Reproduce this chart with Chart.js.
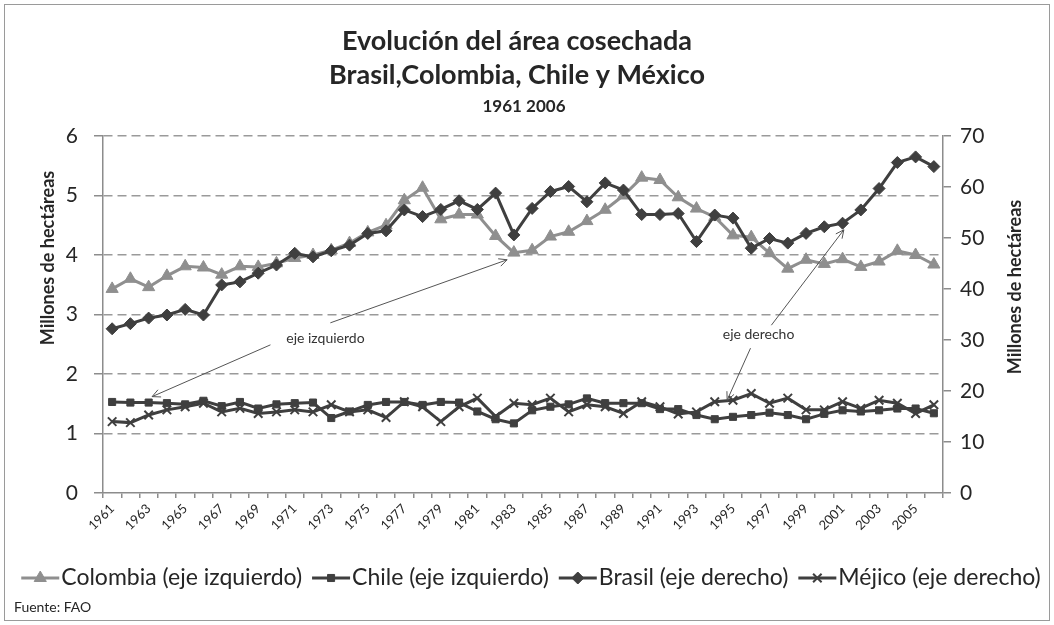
<!DOCTYPE html>
<html>
<head>
<meta charset="utf-8">
<script src="https://cdn.jsdelivr.net/npm/chart.js@4"></script>
<style>
  html, body { margin: 0; padding: 0; background: #fff; }
  #wrap { width: 1054px; height: 625px; position: relative; }
</style>
</head>
<body>
<div id="wrap"><canvas id="chart" width="1054" height="625"></canvas></div>
<script>
const years = [
  "1961", "1962", "1963", "1964", "1965", "1966", "1967", "1968", "1969", "1970",
  "1971", "1972", "1973", "1974", "1975", "1976", "1977", "1978", "1979", "1980",
  "1981", "1982", "1983", "1984", "1985", "1986", "1987", "1988", "1989", "1990",
  "1991", "1992", "1993", "1994", "1995", "1996", "1997", "1998", "1999", "2000",
  "2001", "2002", "2003", "2004", "2005", "2006",
];

// eje izquierdo (millones de ha)
const colombia = [
  3.43, 3.60, 3.46, 3.65, 3.81, 3.79, 3.67, 3.81, 3.80, 3.86,
  3.95, 4.00, 4.08, 4.20, 4.38, 4.50, 4.92, 5.13, 4.60, 4.68,
  4.68, 4.32, 4.04, 4.08, 4.31, 4.39, 4.57, 4.76, 5.00, 5.30,
  5.26, 4.97, 4.78, 4.64, 4.33, 4.30, 4.03, 3.77, 3.92, 3.85,
  3.93, 3.80, 3.89, 4.07, 4.00, 3.84,
];
const chile = [
  1.53, 1.52, 1.52, 1.51, 1.49, 1.55, 1.46, 1.53, 1.42, 1.49,
  1.51, 1.52, 1.26, 1.37, 1.48, 1.53, 1.53, 1.48, 1.53, 1.52,
  1.37, 1.24, 1.17, 1.39, 1.45, 1.49, 1.59, 1.51, 1.51, 1.51,
  1.41, 1.41, 1.31, 1.24, 1.28, 1.31, 1.35, 1.31, 1.24, 1.33,
  1.39, 1.37, 1.39, 1.42, 1.42, 1.34,
];

// eje derecho (millones de ha)
const brasil = [
  32.2, 33.2, 34.3, 34.9, 36.0, 34.9, 40.8, 41.4, 43.1, 44.7,
  47.0, 46.3, 47.5, 48.6, 50.9, 51.4, 55.5, 54.2, 55.6, 57.3,
  55.6, 58.8, 50.6, 55.8, 59.1, 60.1, 57.1, 60.8, 59.4, 54.6,
  54.6, 54.8, 49.3, 54.5, 53.9, 48.0, 49.9, 49.0, 50.9, 52.2,
  52.9, 55.5, 59.7, 64.8, 65.9, 64.0,
];
const mexico = [
  14.0, 13.8, 15.3, 16.3, 16.9, 17.6, 15.9, 16.6, 15.6, 15.9,
  16.3, 15.9, 17.3, 15.9, 16.3, 14.8, 17.9, 16.9, 14.0, 16.9,
  18.6, 15.0, 17.6, 17.3, 18.6, 15.9, 17.3, 16.9, 15.6, 17.9,
  16.9, 15.5, 15.9, 17.9, 18.2, 19.5, 17.6, 18.6, 16.3, 16.3,
  17.9, 16.6, 18.2, 17.6, 15.6, 17.3,
];

const leftTicks = [0, 1, 2, 3, 4, 5, 6];
const rightTicks = [0, 10, 20, 30, 40, 50, 60, 70];

const titleLines = ["Evolución del área cosechada", "Brasil,Colombia, Chile y México"];
const subTitle = "1961 2006";
const axisTitle = "Millones de hectáreas";
const source = "Fuente: FAO";

// flechas del gráfico: [índice de año, valor, eje]
const notes = [
  { text: "eje izquierdo", at: [11.68, 2.6, "yL"], arrows: [
    [[8.67, 2.49], [2.19, 1.62]],
    [[11.95, 2.86], [21.63, 3.92]],
  ] },
  { text: "eje derecho", at: [35.4, 31.0, "yR"], arrows: [
    [[34.96, 28.4], [33.68, 18.2]],
    [[36.1, 32.9], [40.07, 51.6]],
  ] },
];

const FONT = "Lato, 'Open Sans', sans-serif";
const TXT = "#262626";
const DARK = "#3f3f3f";
const LIGHT = "#8f8f8f";

function arrow(ctx, x1, y1, x2, y2) {
  const a = Math.atan2(y2 - y1, x2 - x1);
  const len = 9;
  ctx.beginPath();
  ctx.moveTo(x1, y1);
  ctx.lineTo(x2, y2);
  ctx.moveTo(x2 - len * Math.cos(a - 0.45), y2 - len * Math.sin(a - 0.45));
  ctx.lineTo(x2, y2);
  ctx.lineTo(x2 - len * Math.cos(a + 0.45), y2 - len * Math.sin(a + 0.45));
  ctx.stroke();
}

const decor = {
  id: "decor",
  beforeDraw(chart) {
    const ctx = chart.ctx;
    ctx.save();
    ctx.fillStyle = "#fff";
    ctx.fillRect(0, 0, chart.width, chart.height);
    ctx.strokeStyle = "#9a9a9a";
    ctx.lineWidth = 1;
    ctx.strokeRect(4.5, 4.5, chart.width - 9, chart.height - 9);
    ctx.restore();
  },
  afterDraw(chart) {
    const ctx = chart.ctx;
    const x = chart.scales.x;
    ctx.save();
    ctx.fillStyle = TXT;
    ctx.textAlign = "center";
    ctx.textBaseline = "middle";

    // títulos
    ctx.font = "bold 27px " + FONT;
    ctx.fillText(titleLines[0], 517, 41);
    ctx.fillText(titleLines[1], 517, 75);
    ctx.font = "bold 17px " + FONT;
    ctx.fillText(subTitle, 524, 107);

    // títulos de ejes
    ctx.font = "bold 18px " + FONT;
    ctx.save();
    ctx.translate(48, 258);
    ctx.rotate(-Math.PI / 2);
    ctx.fillText(axisTitle, 0, 0, 194);
    ctx.restore();
    ctx.save();
    ctx.translate(1015, 287);
    ctx.rotate(-Math.PI / 2);
    ctx.fillText(axisTitle, 0, 0, 222);
    ctx.restore();

    // anotaciones
    ctx.strokeStyle = "#555";
    ctx.lineWidth = 1;
    notes.forEach((n) => {
      const ys = chart.scales[n.at[2]];
      ctx.font = "14px " + FONT;
      ctx.fillStyle = "#333";
      ctx.fillText(n.text, x.getPixelForValue(n.at[0]), ys.getPixelForValue(n.at[1]));
      n.arrows.forEach(([from, to]) => {
        arrow(ctx,
          x.getPixelForValue(from[0]), ys.getPixelForValue(from[1]),
          x.getPixelForValue(to[0]), ys.getPixelForValue(to[1]));
      });
    });

    // leyenda
    ctx.font = "23px " + FONT;
    ctx.textAlign = "left";
    const sets = chart.data.datasets;
    const lineW = 38;
    const gap = 10;
    const widths = sets.map((d) => lineW + 2 + ctx.measureText(d.label).width);
    const total = widths.reduce((a, b) => a + b, 0) + gap * (sets.length - 1);
    let lx = 531 - total / 2;
    const ly = 578;
    sets.forEach((d, i) => {
      ctx.strokeStyle = d.borderColor;
      ctx.lineWidth = 3;
      ctx.beginPath();
      ctx.moveTo(lx, ly);
      ctx.lineTo(lx + lineW, ly);
      ctx.stroke();
      ctx.fillStyle = d.pointBackgroundColor;
      ctx.strokeStyle = d.pointBorderColor;
      ctx.lineWidth = d.pointBorderWidth;
      Chart.helpers.drawPoint(ctx, {
        pointStyle: d.pointStyle, radius: d.pointRadius,
        borderWidth: d.pointBorderWidth, rotation: 0,
      }, lx + lineW / 2, ly);
      ctx.fillStyle = TXT;
      ctx.fillText(d.label, lx + lineW + 2, ly);
      lx += widths[i] + gap;
    });

    ctx.font = "14px " + FONT;
    ctx.fillText(source, 14, 607);
    ctx.restore();
  },
};

function series(label, data, axis, color, style, radius, order) {
  return {
    label, data, yAxisID: axis, order,
    borderColor: color, backgroundColor: color, borderWidth: 3,
    pointStyle: style, pointRadius: radius,
    pointBackgroundColor: color, pointBorderColor: color,
    pointBorderWidth: style === "crossRot" ? 2 : 1,
    tension: 0, fill: false,
  };
}

const tickFont = { family: FONT, size: 21 };

new Chart(document.getElementById("chart"), {
  type: "line",
  data: {
    labels: years,
    datasets: [
      series("Colombia (eje izquierdo)", colombia, "yL", LIGHT, "triangle", 7, 4),
      series("Chile (eje izquierdo)", chile, "yL", DARK, "rect", 5, 3),
      series("Brasil (eje derecho)", brasil, "yR", DARK, "rectRot", 6, 2),
      series("Méjico (eje derecho)", mexico, "yR", DARK, "crossRot", 6, 1),
    ],
  },
  options: {
    responsive: false,
    animation: false,
    events: [],
    layout: { padding: { left: 53, right: 41, top: 136, bottom: 90 } },
    plugins: { legend: { display: false }, tooltip: { enabled: false }, title: { display: false } },
    scales: {
      x: {
        type: "category",
        offset: true,
        grid: { offset: true, drawOnChartArea: false, tickLength: 5, color: "#8c8c8c", lineWidth: 1.5 },
        border: { color: "#8c8c8c", width: 1.5 },
        ticks: {
          autoSkip: false, maxRotation: 45, minRotation: 45, padding: 3,
          font: { family: FONT, size: 13 }, color: TXT,
          callback: (v, i) => (i % 2 === 0 ? years[i] : ""),
        },
        afterFit: (s) => { s.height = 42; },
      },
      yL: {
        position: "left",
        min: leftTicks[0],
        max: leftTicks[leftTicks.length - 1],
        afterBuildTicks: (s) => { s.ticks = leftTicks.map((v) => ({ value: v })); },
        ticks: { padding: 16, font: tickFont, color: TXT },
        grid: {
          color: (c) => (c.tick && c.tick.value === 0 ? "rgba(0,0,0,0)" : "#9a9a9a"),
          tickColor: "#8c8c8c", lineWidth: 1.5, tickLength: 9,
        },
        border: { color: "#8c8c8c", width: 1.5, dash: [9, 5] },
        afterFit: (s) => { s.width = 50; },
      },
      yR: {
        position: "right",
        min: rightTicks[0],
        max: rightTicks[rightTicks.length - 1],
        afterBuildTicks: (s) => { s.ticks = rightTicks.map((v) => ({ value: v })); },
        ticks: { padding: 9, font: tickFont, color: TXT },
        grid: { drawOnChartArea: false, tickLength: 8, color: "#8c8c8c", lineWidth: 1.5 },
        border: { color: "#8c8c8c", width: 1.5 },
        afterFit: (s) => { s.width = 70; },
      },
    },
  },
  plugins: [decor],
});
</script>
</body>
</html>
